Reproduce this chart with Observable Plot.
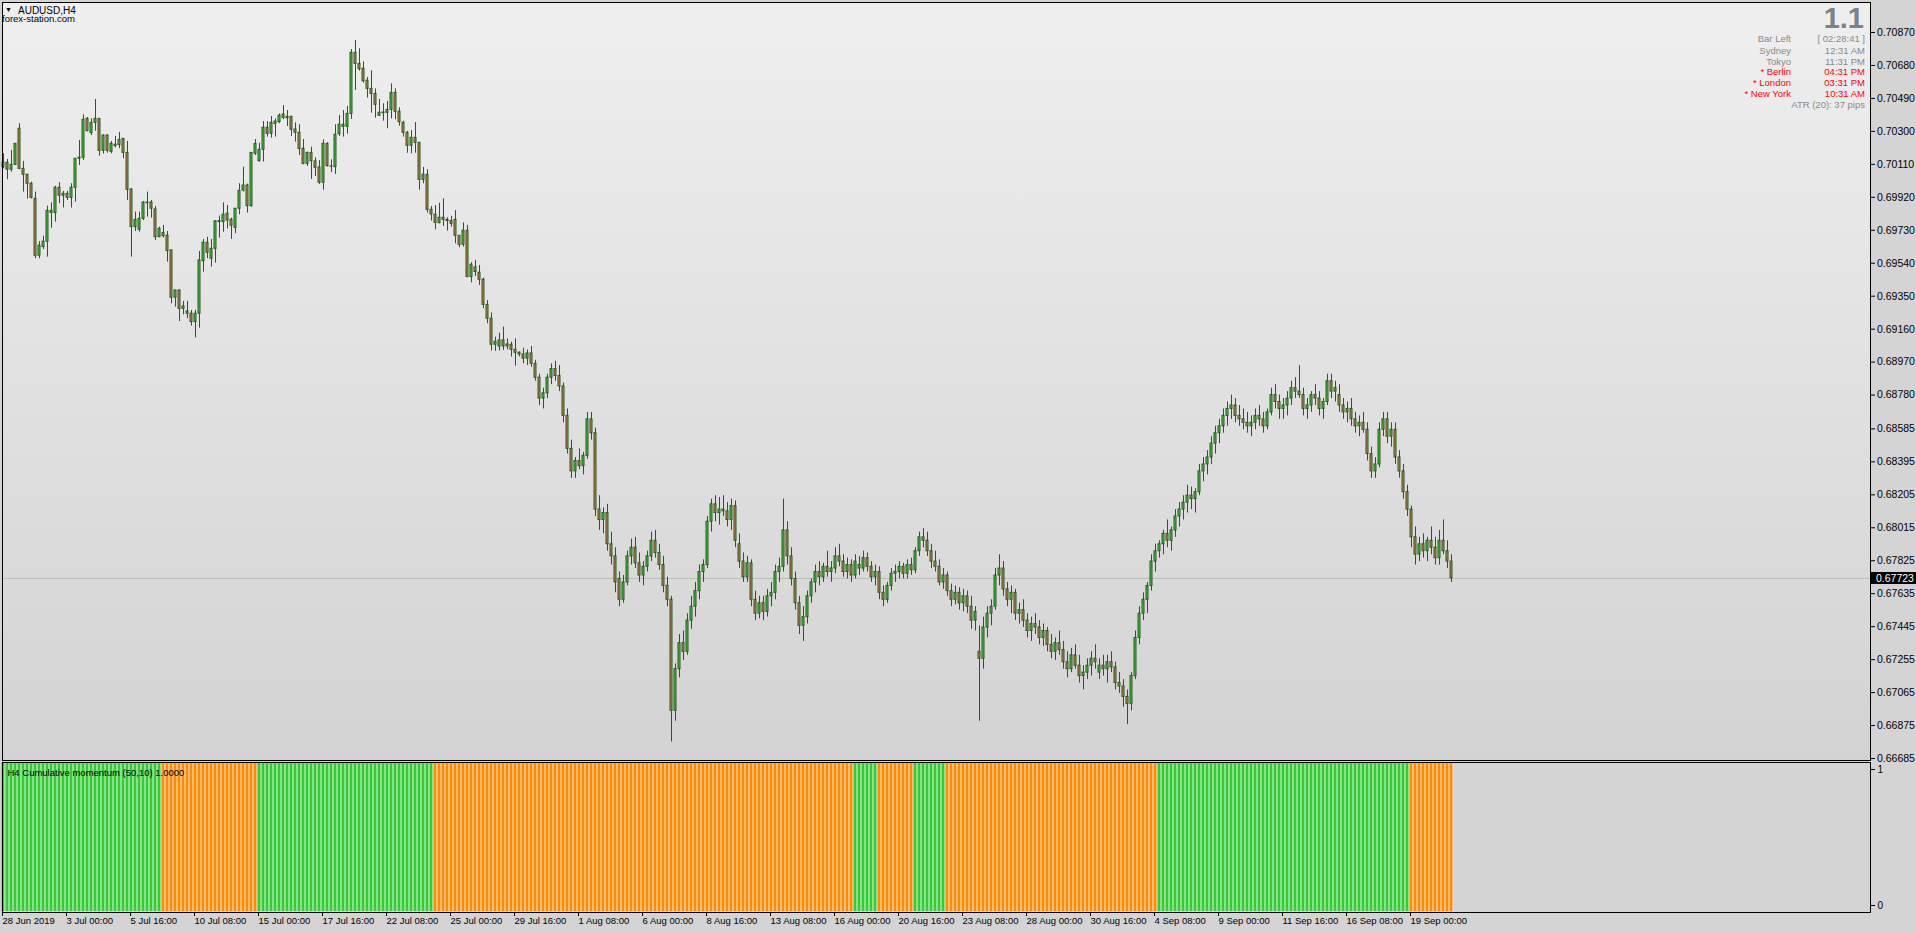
<!DOCTYPE html>
<html><head><meta charset="utf-8">
<script src="https://cdn.jsdelivr.net/npm/d3@7"></script>
<script src="https://cdn.jsdelivr.net/npm/@observablehq/plot@0.6"></script>
<style>
html,body{margin:0;padding:0;background:#D4D4D4;overflow:hidden}
#wrap{position:relative;width:1916px;height:933px;font-family:"Liberation Sans",Arial,sans-serif}
#wrap svg{position:absolute;left:0;top:0}
.t{position:absolute;white-space:nowrap;font-size:9.5px;line-height:11px;color:#8A8A8A}
.r{color:#FF0000}
.ra{text-align:right}
</style></head><body><div id="wrap"></div>
<script>
// ---------- data ----------
const symbol = "AUDUSD,H4";
const site = "forex-station.com";
const indicatorLabel = "H4 Cumulative momentum (50,10) 1.0000";
const lastPrice = 0.67723;

const priceTicks = [0.70870,0.70680,0.70490,0.70300,0.70110,0.69920,0.69730,0.69540,0.69350,0.69160,0.68970,0.68780,0.68585,0.68395,0.68205,0.68015,0.67825,0.67635,0.67445,0.67255,0.67065,0.66875,0.66685];
const timeTickBars = [0,16,32,48,64,80,96,112,128,144,160,176,192,208,224,240,256,272,288,304,320,336,352];
const timeLabels = ["28 Jun 2019","3 Jul 00:00","5 Jul 16:00","10 Jul 08:00","15 Jul 00:00","17 Jul 16:00","22 Jul 08:00","25 Jul 00:00","29 Jul 16:00","1 Aug 08:00","6 Aug 00:00","8 Aug 16:00","13 Aug 08:00","16 Aug 00:00","20 Aug 16:00","23 Aug 08:00","28 Aug 00:00","30 Aug 16:00","4 Sep 08:00","9 Sep 00:00","11 Sep 16:00","16 Sep 08:00","19 Sep 00:00"];

const open = [
0.70094,0.70119,0.70079,0.70107,0.70315,0.70084,0.70050,0.69998,0.69911,0.69583,
0.69633,0.69664,0.69842,0.69829,0.69975,0.69929,0.69940,0.69917,0.69975,0.70142,
0.70148,0.70372,0.70290,0.70349,0.70372,0.70188,0.70276,0.70182,0.70215,0.70221,
0.70257,0.70176,0.69965,0.69748,0.69733,0.69796,0.69890,0.69890,0.69850,0.69690,
0.69715,0.69699,0.69614,0.69341,0.69383,0.69277,0.69249,0.69249,0.69201,0.69249,
0.69552,0.69658,0.69566,0.69623,0.69777,0.69777,0.69825,0.69790,0.69744,0.69854,
0.69959,0.69988,0.69869,0.70171,0.70128,0.70194,0.70321,0.70286,0.70342,0.70353,
0.70378,0.70384,0.70384,0.70311,0.70292,0.70199,0.70113,0.70176,0.70127,0.70092,
0.70004,0.70228,0.70098,0.70094,0.70284,0.70326,0.70326,0.70401,0.70753,0.70689,
0.70661,0.70592,0.70545,0.70516,0.70390,0.70405,0.70407,0.70424,0.70522,0.70413,
0.70349,0.70292,0.70217,0.70263,0.70234,0.70021,0.70050,0.69848,0.69819,0.69771,
0.69802,0.69790,0.69783,0.69790,0.69698,0.69646,0.69727,0.69460,0.69516,0.69485,
0.69445,0.69300,0.69220,0.69070,0.69060,0.69095,0.69060,0.69070,0.69041,0.69024,
0.69014,0.68990,0.69020,0.68960,0.68880,0.68760,0.68790,0.68880,0.68930,0.68890,
0.68830,0.68660,0.68470,0.68340,0.68400,0.68370,0.68430,0.68640,0.68560,0.68120,
0.68060,0.68100,0.67920,0.67850,0.67720,0.67600,0.67700,0.67850,0.67900,0.67810,
0.67740,0.67790,0.67850,0.67940,0.67870,0.67800,0.67680,0.67600,0.66960,0.67200,
0.67350,0.67300,0.67480,0.67560,0.67650,0.67760,0.67800,0.68050,0.68150,0.68100,
0.68120,0.68110,0.68060,0.68140,0.67920,0.67820,0.67730,0.67810,0.67600,0.67520,
0.67580,0.67530,0.67620,0.67640,0.67760,0.67790,0.68000,0.67850,0.67720,0.67580,
0.67450,0.67500,0.67620,0.67700,0.67760,0.67730,0.67790,0.67760,0.67780,0.67850,
0.67820,0.67760,0.67800,0.67740,0.67800,0.67780,0.67840,0.67790,0.67730,0.67760,
0.67640,0.67600,0.67680,0.67750,0.67760,0.67790,0.67750,0.67800,0.67770,0.67880,
0.67960,0.67940,0.67880,0.67820,0.67790,0.67700,0.67740,0.67650,0.67600,0.67640,
0.67580,0.67620,0.67560,0.67480,0.67300,0.67260,0.67440,0.67520,0.67560,0.67740,
0.67780,0.67660,0.67600,0.67640,0.67520,0.67540,0.67480,0.67420,0.67460,0.67440,
0.67380,0.67420,0.67340,0.67300,0.67350,0.67310,0.67240,0.67200,0.67280,0.67220,
0.67160,0.67180,0.67220,0.67260,0.67180,0.67220,0.67200,0.67240,0.67210,0.67120,
0.67100,0.67040,0.67000,0.67160,0.67380,0.67520,0.67600,0.67680,0.67820,0.67880,
0.67920,0.67980,0.67940,0.68000,0.68080,0.68120,0.68160,0.68200,0.68180,0.68220,
0.68340,0.68380,0.68420,0.68500,0.68560,0.68600,0.68660,0.68700,0.68720,0.68660,
0.68640,0.68620,0.68600,0.68620,0.68660,0.68640,0.68600,0.68680,0.68780,0.68740,
0.68700,0.68720,0.68760,0.68820,0.68800,0.68780,0.68700,0.68720,0.68780,0.68760,
0.68700,0.68740,0.68860,0.68800,0.68780,0.68720,0.68680,0.68700,0.68640,0.68600,
0.68620,0.68580,0.68440,0.68340,0.68380,0.68580,0.68640,0.68540,0.68580,0.68420,
0.68340,0.68220,0.68120,0.67960,0.67860,0.67920,0.67880,0.67940,0.67900,0.67840,
0.67940,0.67880,0.67820];
const high = [
0.70171,0.70138,0.70190,0.70230,0.70344,0.70127,0.70052,0.70007,0.69950,0.69665,
0.69696,0.69869,0.69888,0.69983,0.70004,0.69954,0.69954,0.69998,0.70144,0.70248,
0.70395,0.70380,0.70372,0.70484,0.70374,0.70280,0.70280,0.70242,0.70271,0.70294,
0.70259,0.70242,0.69969,0.69835,0.69835,0.69896,0.69950,0.69902,0.69867,0.69748,
0.69758,0.69723,0.69616,0.69385,0.69385,0.69320,0.69320,0.69268,0.69268,0.69608,
0.69677,0.69690,0.69677,0.69786,0.69812,0.69888,0.69873,0.69800,0.69856,0.69998,
0.70094,0.69996,0.70178,0.70253,0.70232,0.70357,0.70357,0.70386,0.70372,0.70401,
0.70449,0.70420,0.70386,0.70349,0.70338,0.70253,0.70180,0.70209,0.70148,0.70132,
0.70251,0.70234,0.70136,0.70338,0.70391,0.70420,0.70444,0.70772,0.70824,0.70776,
0.70701,0.70611,0.70649,0.70545,0.70484,0.70459,0.70472,0.70574,0.70545,0.70436,
0.70359,0.70300,0.70305,0.70351,0.70236,0.70092,0.70079,0.69867,0.69873,0.69886,
0.69911,0.69802,0.69810,0.69844,0.69700,0.69773,0.69758,0.69543,0.69556,0.69527,
0.69454,0.69325,0.69254,0.69114,0.69137,0.69172,0.69104,0.69085,0.69104,0.69030,
0.69050,0.69040,0.69060,0.68980,0.68900,0.68820,0.68900,0.68960,0.68975,0.68950,
0.68850,0.68700,0.68520,0.68420,0.68470,0.68450,0.68680,0.68680,0.68590,0.68200,
0.68130,0.68150,0.67990,0.67900,0.67760,0.67740,0.67880,0.67950,0.67960,0.67870,
0.67820,0.67880,0.67990,0.68000,0.67920,0.67850,0.67730,0.67620,0.67230,0.67400,
0.67420,0.67520,0.67620,0.67700,0.67800,0.67830,0.68080,0.68180,0.68200,0.68190,
0.68200,0.68160,0.68180,0.68170,0.67980,0.67870,0.67850,0.67830,0.67650,0.67620,
0.67620,0.67660,0.67700,0.67800,0.67840,0.68180,0.68050,0.67900,0.67760,0.67620,
0.67560,0.67650,0.67720,0.67800,0.67820,0.67810,0.67880,0.67820,0.67900,0.67920,
0.67860,0.67840,0.67830,0.67860,0.67850,0.67880,0.67870,0.67820,0.67800,0.67790,
0.67680,0.67700,0.67780,0.67800,0.67820,0.67810,0.67830,0.67840,0.67900,0.67990,
0.68010,0.67990,0.67920,0.67880,0.67830,0.67780,0.67760,0.67690,0.67680,0.67670,
0.67660,0.67650,0.67620,0.67560,0.67450,0.67500,0.67560,0.67600,0.67780,0.67860,
0.67820,0.67700,0.67680,0.67660,0.67580,0.67600,0.67520,0.67500,0.67520,0.67480,
0.67460,0.67440,0.67400,0.67380,0.67420,0.67360,0.67300,0.67320,0.67340,0.67280,
0.67220,0.67260,0.67300,0.67340,0.67260,0.67280,0.67280,0.67300,0.67240,0.67180,
0.67140,0.67080,0.67180,0.67420,0.67560,0.67640,0.67700,0.67860,0.67920,0.67940,
0.68000,0.68060,0.68020,0.68120,0.68160,0.68200,0.68260,0.68250,0.68240,0.68380,
0.68420,0.68460,0.68540,0.68600,0.68640,0.68700,0.68740,0.68780,0.68760,0.68720,
0.68700,0.68680,0.68660,0.68700,0.68720,0.68680,0.68700,0.68820,0.68840,0.68780,
0.68760,0.68800,0.68860,0.68880,0.68950,0.68820,0.68760,0.68800,0.68840,0.68800,
0.68760,0.68900,0.68900,0.68860,0.68840,0.68760,0.68740,0.68760,0.68680,0.68660,
0.68680,0.68620,0.68480,0.68420,0.68620,0.68680,0.68680,0.68620,0.68620,0.68460,
0.68380,0.68260,0.68140,0.68020,0.67960,0.67980,0.67960,0.68020,0.67960,0.68000,
0.68060,0.67940,0.67860];
const low = [
0.70084,0.70021,0.70065,0.70103,0.70079,0.69950,0.69910,0.69910,0.69566,0.69566,
0.69619,0.69575,0.69742,0.69777,0.69883,0.69858,0.69902,0.69858,0.69892,0.70103,
0.70132,0.70298,0.70276,0.70301,0.70157,0.70169,0.70175,0.70171,0.70205,0.70200,
0.70142,0.69902,0.69575,0.69723,0.69719,0.69786,0.69806,0.69800,0.69671,0.69688,
0.69685,0.69546,0.69306,0.69287,0.69204,0.69243,0.69220,0.69177,0.69109,0.69166,
0.69489,0.69566,0.69518,0.69541,0.69685,0.69719,0.69738,0.69677,0.69710,0.69819,
0.69950,0.69829,0.69863,0.70161,0.70123,0.70123,0.70267,0.70261,0.70267,0.70344,
0.70367,0.70328,0.70271,0.70238,0.70161,0.70107,0.70098,0.70023,0.70040,0.69994,
0.69961,0.70094,0.70063,0.70052,0.70271,0.70267,0.70284,0.70369,0.70536,0.70647,
0.70578,0.70492,0.70405,0.70376,0.70386,0.70359,0.70315,0.70372,0.70367,0.70330,
0.70267,0.70174,0.70171,0.70174,0.69961,0.69998,0.69829,0.69783,0.69733,0.69767,
0.69752,0.69725,0.69748,0.69652,0.69629,0.69633,0.69458,0.69427,0.69464,0.69412,
0.69278,0.69191,0.69034,0.69032,0.69034,0.69037,0.69041,0.68999,0.68947,0.69000,
0.68960,0.68950,0.68940,0.68860,0.68720,0.68700,0.68760,0.68840,0.68860,0.68800,
0.68620,0.68440,0.68300,0.68300,0.68350,0.68320,0.68410,0.68520,0.68080,0.68000,
0.67980,0.67880,0.67800,0.67640,0.67560,0.67580,0.67680,0.67800,0.67780,0.67700,
0.67680,0.67760,0.67820,0.67840,0.67770,0.67640,0.67560,0.66780,0.66900,0.67150,
0.67250,0.67280,0.67430,0.67500,0.67600,0.67700,0.67780,0.67990,0.68050,0.68030,
0.68080,0.68020,0.68000,0.67900,0.67780,0.67700,0.67700,0.67560,0.67480,0.67490,
0.67480,0.67500,0.67560,0.67600,0.67700,0.67760,0.67800,0.67680,0.67540,0.67400,
0.67360,0.67460,0.67580,0.67640,0.67680,0.67700,0.67730,0.67700,0.67750,0.67790,
0.67730,0.67720,0.67700,0.67720,0.67740,0.67760,0.67760,0.67700,0.67680,0.67600,
0.67560,0.67580,0.67650,0.67700,0.67720,0.67720,0.67720,0.67740,0.67750,0.67850,
0.67900,0.67850,0.67780,0.67760,0.67680,0.67660,0.67620,0.67560,0.67570,0.67540,
0.67530,0.67520,0.67430,0.67420,0.66900,0.67200,0.67380,0.67450,0.67540,0.67680,
0.67620,0.67560,0.67520,0.67480,0.67460,0.67440,0.67380,0.67360,0.67400,0.67340,
0.67330,0.67300,0.67260,0.67250,0.67280,0.67200,0.67150,0.67180,0.67200,0.67120,
0.67080,0.67140,0.67160,0.67200,0.67140,0.67160,0.67120,0.67180,0.67080,0.67060,
0.66980,0.66880,0.66960,0.67140,0.67340,0.67480,0.67520,0.67650,0.67760,0.67840,
0.67860,0.67900,0.67880,0.67960,0.68020,0.68060,0.68100,0.68120,0.68100,0.68200,
0.68280,0.68320,0.68380,0.68440,0.68500,0.68560,0.68600,0.68640,0.68620,0.68600,
0.68580,0.68560,0.68540,0.68580,0.68600,0.68560,0.68580,0.68660,0.68700,0.68640,
0.68640,0.68660,0.68720,0.68760,0.68760,0.68660,0.68640,0.68680,0.68720,0.68660,
0.68640,0.68720,0.68760,0.68740,0.68680,0.68640,0.68620,0.68600,0.68560,0.68540,
0.68560,0.68400,0.68300,0.68300,0.68360,0.68540,0.68500,0.68480,0.68380,0.68300,
0.68180,0.68080,0.67900,0.67800,0.67820,0.67840,0.67820,0.67860,0.67800,0.67800,
0.67860,0.67780,0.67700];
const close = [
0.70119,0.70079,0.70107,0.70228,0.70084,0.70050,0.69998,0.69917,0.69583,0.69641,
0.69664,0.69842,0.69829,0.69975,0.69929,0.69940,0.69917,0.69975,0.70142,0.70148,
0.70367,0.70301,0.70349,0.70372,0.70188,0.70276,0.70188,0.70228,0.70223,0.70251,
0.70176,0.69963,0.69748,0.69790,0.69796,0.69890,0.69886,0.69854,0.69690,0.69738,
0.69696,0.69610,0.69341,0.69383,0.69277,0.69291,0.69262,0.69201,0.69249,0.69556,
0.69658,0.69600,0.69623,0.69781,0.69783,0.69819,0.69786,0.69756,0.69854,0.69957,
0.69988,0.69869,0.70176,0.70228,0.70194,0.70321,0.70286,0.70349,0.70357,0.70390,
0.70397,0.70376,0.70309,0.70292,0.70199,0.70113,0.70176,0.70128,0.70090,0.70004,
0.70228,0.70100,0.70096,0.70280,0.70338,0.70338,0.70401,0.70753,0.70689,0.70659,
0.70589,0.70545,0.70516,0.70453,0.70407,0.70409,0.70424,0.70522,0.70413,0.70353,
0.70292,0.70217,0.70263,0.70234,0.70021,0.70050,0.69848,0.69821,0.69773,0.69802,
0.69790,0.69783,0.69767,0.69698,0.69646,0.69727,0.69460,0.69531,0.69489,0.69445,
0.69300,0.69220,0.69070,0.69087,0.69095,0.69060,0.69072,0.69041,0.69024,0.69014,
0.68990,0.69020,0.68960,0.68880,0.68760,0.68790,0.68880,0.68930,0.68890,0.68830,
0.68660,0.68470,0.68340,0.68400,0.68370,0.68430,0.68640,0.68560,0.68120,0.68060,
0.68100,0.67920,0.67850,0.67700,0.67600,0.67700,0.67850,0.67900,0.67810,0.67740,
0.67790,0.67850,0.67940,0.67870,0.67800,0.67680,0.67600,0.66960,0.67200,0.67350,
0.67300,0.67480,0.67560,0.67650,0.67760,0.67800,0.68050,0.68150,0.68100,0.68120,
0.68110,0.68060,0.68140,0.67940,0.67820,0.67730,0.67810,0.67600,0.67520,0.67580,
0.67530,0.67620,0.67640,0.67760,0.67790,0.68000,0.67850,0.67720,0.67580,0.67450,
0.67500,0.67620,0.67700,0.67760,0.67730,0.67790,0.67760,0.67780,0.67850,0.67820,
0.67760,0.67800,0.67740,0.67820,0.67780,0.67840,0.67790,0.67730,0.67760,0.67640,
0.67600,0.67680,0.67750,0.67760,0.67790,0.67750,0.67800,0.67770,0.67880,0.67960,
0.67940,0.67880,0.67820,0.67790,0.67700,0.67740,0.67650,0.67600,0.67640,0.67580,
0.67620,0.67560,0.67480,0.67530,0.67260,0.67440,0.67520,0.67560,0.67740,0.67780,
0.67660,0.67600,0.67640,0.67520,0.67540,0.67480,0.67420,0.67460,0.67440,0.67380,
0.67420,0.67340,0.67300,0.67350,0.67310,0.67240,0.67200,0.67280,0.67220,0.67160,
0.67180,0.67220,0.67260,0.67240,0.67220,0.67200,0.67240,0.67210,0.67120,0.67100,
0.67040,0.67000,0.67160,0.67380,0.67520,0.67600,0.67680,0.67820,0.67880,0.67920,
0.67980,0.67940,0.68000,0.68080,0.68120,0.68160,0.68200,0.68180,0.68220,0.68340,
0.68380,0.68420,0.68500,0.68560,0.68600,0.68660,0.68700,0.68720,0.68660,0.68640,
0.68620,0.68600,0.68620,0.68660,0.68640,0.68600,0.68680,0.68780,0.68740,0.68700,
0.68720,0.68760,0.68820,0.68800,0.68780,0.68700,0.68720,0.68780,0.68760,0.68700,
0.68740,0.68860,0.68800,0.68820,0.68720,0.68680,0.68700,0.68640,0.68600,0.68620,
0.68580,0.68440,0.68340,0.68380,0.68580,0.68640,0.68540,0.68580,0.68420,0.68340,
0.68220,0.68120,0.67960,0.67860,0.67920,0.67880,0.67940,0.67900,0.67840,0.67940,
0.67880,0.67820,0.67723];

// Cumulative momentum colour runs: first bar index of each run and its state (1 = up/green, 0 = down/orange)
const momTotalBars = 363;
const momRunStart = [0,40,64,108,213,219,228,236,289,352];
const momRunUp    = [1,0,1,0,1,0,1,0,1,0];
const momValue = 1;

const infoLabels = ["Bar Left","Sydney","Tokyo","* Berlin","* London","* New York"];
const infoValues = ["[ 02:28:41 ]","12:31 AM","11:31 PM","04:31 PM","03:31 PM","10:31 AM"];
const infoRed    = [false,false,false,true,true,true];
const atrText = "ATR (20): 37 pips";
const spreadText = "1.1";

// ---------- build ----------
const bars = open.map((o,i)=>({i, o, h:high[i], l:low[i], c:close[i]}));
const mom = d3.range(momTotalBars).map(i=>{
  const k = d3.bisectRight(momRunStart, i) - 1;
  return {i, v: momValue, up: momRunUp[k]};
});

const W = 1916, Hh = 933;
const xDomain = [-0.25, 466.75];
const wickCol = "#285A1E", bullCol = "#3CC83C", bearCol = "#D6764F";
const fmt5 = d3.format(".5f");
const FONT = "Liberation Sans, Arial, sans-serif";

const wrap = document.getElementById("wrap");

function priceBox(index, scales, values, dims) {
  const y = scales.y(lastPrice);
  const x0 = scales.x(xDomain[1]);
  const g = d3.create("svg:g");
  g.append("rect").attr("x", x0).attr("y", Math.round(y) - 6).attr("width", W - x0).attr("height", 12).attr("fill", "#000");
  g.append("text").attr("x", x0 + 6).attr("y", y).attr("dy", "0.35em").attr("fill", "#fff")
    .attr("text-anchor", "start").attr("font-size", 10.5).attr("font-family", FONT).text(fmt5(lastPrice));
  return g.node();
}

const main = Plot.plot({
  width: W, height: Hh,
  marginLeft: 2, marginRight: 46, marginTop: 2, marginBottom: 173,
  style: {background: "transparent", fontFamily: FONT, fontSize: "10.5px", color: "#000", overflow: "visible"},
  x: {domain: xDomain, axis: null},
  y: {domain: [0.666735, 0.710429], axis: null},
  color: {type: "identity"},
  marks: [
    Plot.frame({fill: "url(#mainGrad)"}),
    Plot.ruleY([lastPrice], {stroke: "#BDBDBD", strokeWidth: 1}),
    Plot.ruleX(bars, {x: "i", y1: "l", y2: "h", stroke: wickCol, strokeWidth: 1}),
    Plot.rect(bars, {x1: d => d.i - 0.25, x2: d => d.i + 0.25, y1: "o", y2: "c",
      fill: d => d.c >= d.o ? bullCol : bearCol, stroke: wickCol, strokeWidth: 1}),
    Plot.axisY({anchor: "right", label: null, ticks: priceTicks, tickFormat: fmt5, tickSize: 4, tickPadding: 2.5, fontSize: 10.5}),
    Plot.frame({stroke: "#000", strokeWidth: 1}),
    priceBox
  ]
});
const defs = d3.select(main).insert("defs", ":first-child");
const lg = defs.append("linearGradient").attr("id", "mainGrad").attr("x1", 0).attr("y1", 0).attr("x2", 0).attr("y2", 1);
lg.append("stop").attr("offset", "0%").attr("stop-color", "#EFEFEF");
lg.append("stop").attr("offset", "100%").attr("stop-color", "#D3D3D3");
wrap.appendChild(main);

const ind = Plot.plot({
  width: W, height: Hh,
  marginLeft: 2, marginRight: 46, marginTop: 762, marginBottom: 21,
  style: {background: "transparent", fontFamily: FONT, fontSize: "9.5px", color: "#000", overflow: "visible"},
  x: {domain: xDomain, axis: null},
  y: {domain: [-1/148, 1 + 1/148], axis: null},
  color: {type: "identity"},
  marks: [
    Plot.frame({fill: "#D4D4D4"}),
    Plot.rect([{a: 0, b: momTotalBars - 1}], {x1: d => d.a - 0.375, x2: d => d.b + 0.625, y1: 0, y2: momValue, fill: "#EEEEEE"}),
    Plot.rect(mom, {x1: d => d.i - 0.375, x2: d => d.i + 0.375, y1: 0, y2: "v", fill: d => d.up ? "#32CD32" : "#FF8C00"}),
    Plot.axisY({anchor: "right", label: null, ticks: [1], tickFormat: d => String(d), tickSize: 4, tickPadding: 3, dy: 6, fontSize: 10}),
    Plot.axisY({anchor: "right", label: null, ticks: [0], tickFormat: d => String(d), tickSize: 4, tickPadding: 3, dy: -6, fontSize: 10}),
    Plot.axisX({anchor: "bottom", label: null, ticks: timeTickBars, tickFormat: d => timeLabels[timeTickBars.indexOf(d)],
      tickSize: 4, tickPadding: 1, textAnchor: "start", dx: -1, fontSize: 9.5}),
    Plot.text([indicatorLabel], {frameAnchor: "top-left", dx: 5, dy: 10, textAnchor: "start", lineAnchor: "middle", fill: "#000", fontSize: 9.5}),
    Plot.frame({stroke: "#000", strokeWidth: 1})
  ]
});
wrap.appendChild(ind);

// ---------- text overlays ----------
function addDiv(html, css, cls) {
  const d = document.createElement("div");
  d.className = "t " + (cls || "");
  d.innerHTML = html;
  Object.assign(d.style, css);
  wrap.appendChild(d);
  return d;
}
addDiv("&#9660;", {left: "5px", top: "4px", fontSize: "7px", color: "#000"});
addDiv(symbol, {left: "18px", top: "4.5px", fontSize: "10px", color: "#000"});
addDiv(site, {left: "2px", top: "13px", fontSize: "9.5px", color: "#000"});
addDiv(spreadText, {right: (W - 1864) + "px", top: "4px", fontSize: "29px", lineHeight: "29px", fontWeight: "bold", color: "#7C828B"}, "ra");
const rowCenters = [38.7, 50, 61, 71.7, 82.7, 93.3];
infoLabels.forEach((lab, k) => {
  addDiv(lab, {right: (W - 1791) + "px", top: (rowCenters[k] - 5.5) + "px"}, "ra " + (infoRed[k] ? "r" : ""));
  addDiv(infoValues[k], {right: (W - 1865) + "px", top: (rowCenters[k] - 5.5) + "px"}, "ra " + (infoRed[k] ? "r" : ""));
});
addDiv(atrText, {right: (W - 1865) + "px", top: (104.5 - 5.5) + "px"}, "ra");
</script></body></html>
